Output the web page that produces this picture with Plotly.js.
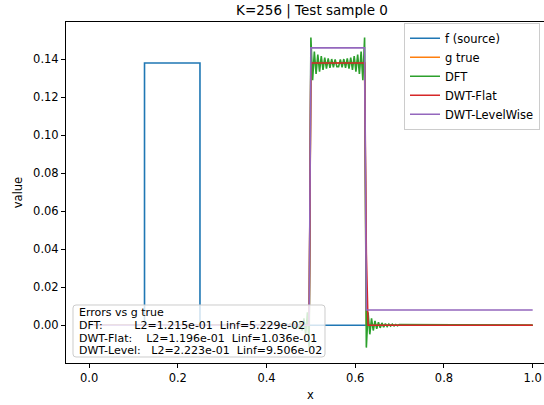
<!DOCTYPE html>
<html><head><meta charset="utf-8">
<script src="https://cdn.plot.ly/plotly-3.0.1.min.js"></script>
<style>html,body{margin:0;padding:0;background:#fff}#plot{width:544px;height:405px}</style>
</head><body><div id="plot"></div>
<script>
// ---- data ----
const step = 1 / 256;
const fX = [0, 0.125, 0.125, 0.25, 0.25, 1.0];
const fY = [0, 0, 0.138, 0.138, 0, 0];
const gX = [0, 127 * step, 128 * step, 159 * step, 160 * step, 1.0];
const gY = [0, 0, 0.138, 0.138, 0, 0];
const flatX = [0, 127 * step, 128 * step, 159 * step, 160 * step, 161 * step, 1.0];
const flatY = [0, 0, 0.138, 0.138, 0.038, 0, 0];
const levelX = [0, 127 * step, 128 * step, 159 * step, 160 * step, 1.0];
const levelY = [0, 0, 0.146, 0.146, 0.008, 0.008];
// DFT reconstruction samples (index 108 .. 179 on the 1/256 grid), zero elsewhere
const dftStart = 108;
const dftVals = [
  0.0003, -0.0003, 0.0004, -0.0004, 0.0005, -0.0005, 0.0006, -0.0007, 0.0008, -0.0010,
  0.0012, -0.0014, 0.0016, -0.0019, 0.0023, -0.0028, 0.0036, -0.0048, 0.0068, -0.0118,
  0.1514, 0.1290, 0.1440, 0.1322, 0.1425, 0.1335, 0.1416, 0.1344, 0.1409, 0.1350,
  0.1404, 0.1355, 0.1401, 0.1358, 0.1399, 0.1361, 0.1361, 0.1399, 0.1358, 0.1401,
  0.1355, 0.1404, 0.1350, 0.1409, 0.1344, 0.1416, 0.1335, 0.1425, 0.1322, 0.1440,
  0.1290, 0.1514,
  -0.0118, 0.0068, -0.0048, 0.0036, -0.0028, 0.0023, -0.0019, 0.0016, -0.0014, 0.0012,
  -0.0010, 0.0008, -0.0007, 0.0006, -0.0005, 0.0005, -0.0004, 0.0004, -0.0003, 0.0003
];
const seriesNames = ["f (source)", "g true", "DFT", "DWT-Flat", "DWT-LevelWise"];
const colors = ["#1f77b4", "#ff7f0e", "#2ca02c", "#d62728", "#9467bd"];
const errLines = [
  "Errors vs g true",
  "DFT:         L2=1.215e-01  Linf=5.229e-02",
  "DWT-Flat:    L2=1.196e-01  Linf=1.036e-01",
  "DWT-Level:   L2=2.223e-01  Linf=9.506e-02"
];
const xTicks = [0, 0.2, 0.4, 0.6, 0.8, 1.0];
const yTicks = [0, 0.02, 0.04, 0.06, 0.08, 0.10, 0.12, 0.14];

// ---- build DFT series ----
const dftX = [0], dftY = [0];
dftVals.forEach((v, k) => { dftX.push((dftStart + k) * step); dftY.push(v); });
dftX.push(1.0); dftY.push(0);

const FONT = "DejaVu Sans, sans-serif";
const mk = (x, y, i) => ({x, y, type: "scatter", mode: "lines", name: seriesNames[i],
  line: {color: colors[i], width: 1.6}});
const traces = [mk(fX, fY, 0), mk(gX, gY, 1), mk(dftX, dftY, 2), mk(flatX, flatY, 3), mk(levelX, levelY, 4)];

// plot area geometry (pixels) to place the error box
const L = 66, R = 544, T = 22, B = 363;
const px = p => (p - L) / (R - L);
const py = p => (B - p) / (B - T);
function roundBox(x0, y0, x1, y1, r) {
  const X = v => px(v).toFixed(5), Y = v => py(v).toFixed(5);
  return `M${X(x0 + r)},${Y(y0)} L${X(x1 - r)},${Y(y0)} Q${X(x1)},${Y(y0)} ${X(x1)},${Y(y0 + r)} ` +
         `L${X(x1)},${Y(y1 - r)} Q${X(x1)},${Y(y1)} ${X(x1 - r)},${Y(y1)} L${X(x0 + r)},${Y(y1)} ` +
         `Q${X(x0)},${Y(y1)} ${X(x0)},${Y(y1 - r)} L${X(x0)},${Y(y0 + r)} Q${X(x0)},${Y(y0)} ${X(x0 + r)},${Y(y0)} Z`;
}
const nb = s => s.replace(/ /g, "\u00a0");
const lineCenters = [312.5, 325.3, 338, 350.7];
const annotations = errLines.map((t, i) => ({
  text: nb(t), xref: "paper", yref: "paper", x: px(76.5), y: py(lineCenters[i]),
  xanchor: "left", yanchor: "middle", align: "left", showarrow: false,
  font: {family: FONT, size: 11, color: "#000"}
}));
annotations.push({text: "x", xref: "paper", yref: "paper", x: px(310.5), y: py(395), xanchor: "center",
  yanchor: "middle", showarrow: false, font: {family: FONT, size: 11.5, color: "#000"}});

const layout = {
  width: 544, height: 405,
  margin: {l: L, r: 0, t: T, b: 405 - B},
  paper_bgcolor: "#fff", plot_bgcolor: "#fff",
  font: {family: FONT, size: 11, color: "#000"},
  title: {text: "K=256 | Test sample 0", font: {family: FONT, size: 13.5, color: "#000"},
          xref: "paper", x: px(312), xanchor: "center", y: 0.975, yref: "container", yanchor: "middle"},
  xaxis: {range: [-0.052, 1.0255], tickvals: xTicks, ticktext: xTicks.map(v => v.toFixed(1)),
          showgrid: false, zeroline: false, showline: true, linecolor: "#000", linewidth: 1, mirror: true,
          ticks: "outside", ticklen: 4, tickcolor: "#000", tickfont: {family: FONT, size: 11.5}},
  yaxis: {range: [-0.0199, 0.1596], tickvals: yTicks, ticktext: yTicks.map(v => v.toFixed(2)),
          showgrid: false, zeroline: false, showline: true, linecolor: "#000", linewidth: 1,
          ticks: "outside", ticklen: 4, tickcolor: "#000", tickfont: {family: FONT, size: 11.5},
          title: {text: "value", font: {family: FONT, size: 11.5}, standoff: 8}},
  legend: {x: px(404), y: 0.998, xanchor: "left", yanchor: "top", bgcolor: "rgba(255,255,255,0.8)",
           bordercolor: "#cccccc", borderwidth: 1, font: {family: FONT, size: 11.5}, tracegroupgap: 0,
           entrywidth: 150, entrywidthmode: "pixels"},
  shapes: [{type: "path", xref: "paper", yref: "paper", path: roundBox(73, 305, 325, 357, 3),
            fillcolor: "rgba(255,255,255,0.8)", line: {color: "#cccccc", width: 1}, layer: "above"}],
  annotations
};
Plotly.newPlot("plot", traces, layout, {displayModeBar: false, staticPlot: true});
</script></body></html>
